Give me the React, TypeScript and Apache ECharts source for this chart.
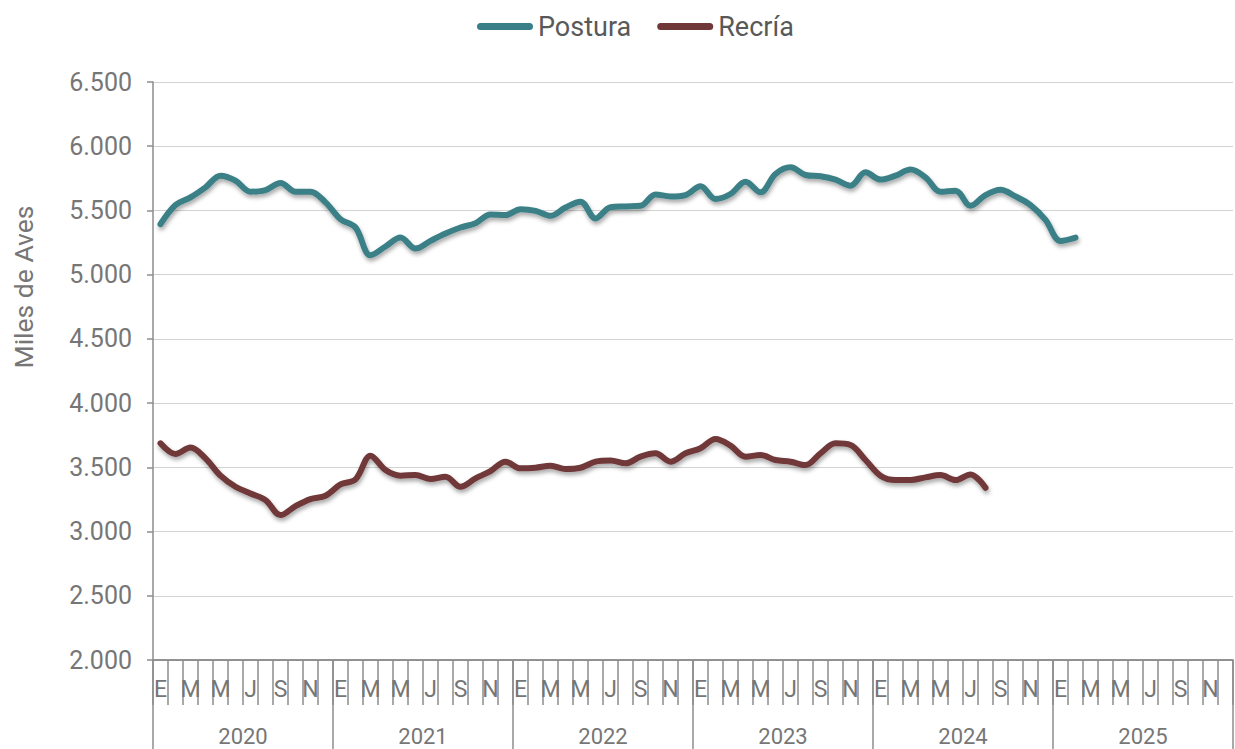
import React, { useEffect, useRef } from "react";
import * as echarts from "echarts";

const monthLetters = ["E", "F", "M", "A", "M", "J", "J", "A", "S", "O", "N", "D"];
const years = ["2020", "2021", "2022", "2023", "2024", "2025"];
const months: string[] = [];
years.forEach(() => monthLetters.forEach((m) => months.push(m)));

const postura = [
  5393, 5542, 5602, 5680, 5771, 5732, 5646, 5659, 5714, 5646, 5646, 5563,
  5432, 5367, 5151, 5219, 5289, 5203, 5263, 5320, 5367, 5401, 5469, 5464,
  5510, 5497, 5458, 5523, 5568, 5438, 5525, 5531, 5536, 5625, 5609, 5620,
  5688, 5589, 5628, 5724, 5641, 5784, 5836, 5776, 5766, 5740, 5693, 5797,
  5740, 5771, 5818, 5758, 5646, 5654, 5536, 5620, 5661, 5609, 5542, 5427,
  5263, 5289,
];

const recria = [
  3687, 3604, 3654, 3570, 3435, 3349, 3297, 3245, 3128, 3198, 3253, 3279,
  3367, 3406, 3591, 3479, 3435, 3440, 3409, 3427, 3349, 3414, 3471, 3544,
  3492, 3497, 3513, 3487, 3497, 3544, 3553, 3531, 3583, 3609, 3544, 3609,
  3648, 3721, 3669, 3583, 3596, 3557, 3544, 3518, 3609, 3687, 3674, 3557,
  3435, 3401, 3401, 3422, 3440, 3401, 3445, 3341,
];

const yMin = 2000;
const yMax = 6500;
const yStep = 500;

const FONT = "Roboto";
const AXIS_COLOR = "#8c8c8c";
const LABEL_COLOR = "#767676";

const fmt = (v: number) => String(v).replace(/\B(?=(\d{3})+(?!\d))/g, ".");

export default function App() {
  const ref = useRef<HTMLDivElement>(null);
  useEffect(() => {
    document.body.style.margin = "0";
    const chart = echarts.init(ref.current!, undefined, { renderer: "svg" });
    const capsule = "path://M3.5,0 H52.5 A3.5,3.5 0 0 1 52.5,7 H3.5 A3.5,3.5 0 0 1 3.5,0 Z";
    chart.setOption({
      animation: false,
      textStyle: { fontFamily: FONT },
      legend: {
        left: 472,
        top: 8,
        itemWidth: 56,
        itemHeight: 7,
        itemGap: 26,
        textStyle: { fontSize: 27, color: "#595959", fontFamily: FONT },
        data: [
          { name: "Postura", icon: capsule },
          { name: "Recría", icon: capsule },
        ],
      },
      grid: { left: 153, right: 2, top: 82, bottom: 89, containLabel: false },
      graphic: [
        {
          type: "text",
          x: 23,
          y: 287,
          rotation: Math.PI / 2,
          style: {
            text: "Miles de Aves",
            fontSize: 26.5,
            fontFamily: FONT,
            fill: LABEL_COLOR,
            textAlign: "center",
            textVerticalAlign: "middle",
          },
        },
      ],
      xAxis: [
        {
          type: "category",
          data: months,
          boundaryGap: true,
          axisLine: { show: true, lineStyle: { color: AXIS_COLOR, width: 1.5 } },
          axisTick: { show: true, interval: 0, length: 45, lineStyle: { color: AXIS_COLOR, width: 1.5 } },
          axisLabel: { interval: 1, margin: 18, fontSize: 23, color: LABEL_COLOR, fontFamily: FONT },
          splitLine: { show: false },
        },
        {
          type: "category",
          data: years,
          position: "bottom",
          boundaryGap: true,
          axisLine: { show: true, lineStyle: { color: AXIS_COLOR, width: 1.5 } },
          axisTick: { show: true, interval: 0, length: 100, lineStyle: { color: AXIS_COLOR, width: 1.5 } },
          axisLabel: { interval: 0, margin: 65, fontSize: 22, color: LABEL_COLOR, fontFamily: FONT },
          splitLine: { show: false },
        },
      ],
      yAxis: {
        type: "value",
        min: yMin,
        max: yMax,
        interval: yStep,
        axisLine: { show: true, lineStyle: { color: AXIS_COLOR, width: 1.5 } },
        axisTick: { show: true, length: 6, lineStyle: { color: AXIS_COLOR, width: 1.5 } },
        axisLabel: { margin: 21, fontSize: 25, color: LABEL_COLOR, fontFamily: FONT, formatter: (v: number) => fmt(v) },
        splitLine: { show: true, lineStyle: { color: "#d3d3d3", width: 1.2 } },
      },
      series: [
        {
          name: "Postura",
          type: "line",
          xAxisIndex: 0,
          data: postura,
          smooth: 0.35,
          symbol: "none",
          color: "#3a7f87",
          lineStyle: {
            width: 6,
            cap: "round",
            join: "round",
            color: "#3a7f87",
            shadowColor: "rgba(0,0,0,0.35)",
            shadowBlur: 4,
            shadowOffsetY: 3,
            shadowOffsetX: 1,
          },
        },
        {
          name: "Recría",
          type: "line",
          xAxisIndex: 0,
          data: recria,
          smooth: 0.35,
          symbol: "none",
          color: "#6f3737",
          lineStyle: {
            width: 6,
            cap: "round",
            join: "round",
            color: "#6f3737",
            shadowColor: "rgba(0,0,0,0.35)",
            shadowBlur: 4,
            shadowOffsetY: 3,
            shadowOffsetX: 1,
          },
        },
      ],
    });
    return () => chart.dispose();
  }, []);
  return <div ref={ref} style={{ width: 1235, height: 749 }} />;
}
